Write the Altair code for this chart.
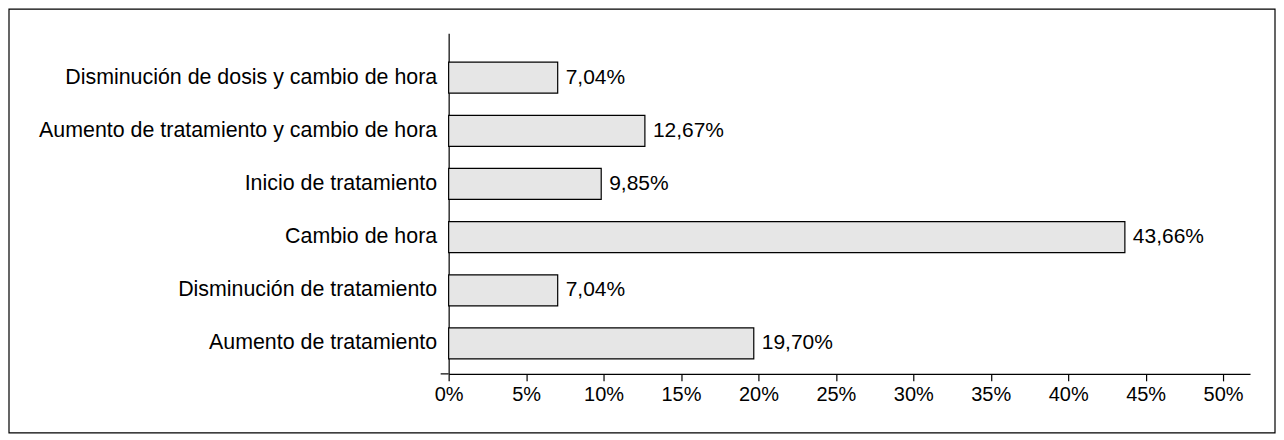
import altair as alt
import pandas as pd

categories = [
    "Disminución de dosis y cambio de hora",
    "Aumento de tratamiento y cambio de hora",
    "Inicio de tratamiento",
    "Cambio de hora",
    "Disminución de tratamiento",
    "Aumento de tratamiento",
]
percentages = [7.04, 12.67, 9.85, 43.66, 7.04, 19.70]
x_ticks = [0, 5, 10, 15, 20, 25, 30, 35, 40, 45, 50]

df = pd.DataFrame({"cat": categories, "pct": percentages})

W = 802
H = 341
FONT = "Liberation Sans"

x_scale = alt.Scale(domain=[0, 51.74], nice=False, zero=True)
y_scale = alt.Scale(domain=categories, paddingInner=0.417, paddingOuter=0.413, align=0.66)

base = alt.Chart(df)

bars = base.mark_bar(fill="#e6e6e6", stroke="black", strokeWidth=1.2).encode(
    x=alt.X("pct:Q", scale=x_scale,
            axis=alt.Axis(values=x_ticks, labelExpr="datum.value + '%'", title=None,
                          grid=False, domainColor="black", tickColor="black",
                          tickSize=7, labelFontSize=20, labelColor="black",
                          labelFont=FONT, labelPadding=4, domainWidth=1.2, tickWidth=1.2,
                          labelFlush=False)),
    y=alt.Y("cat:N", scale=y_scale, sort=None,
            axis=alt.Axis(title=None, ticks=False, labelFontSize=21.4, labelColor="black",
                          labelFont=FONT, labelPadding=12, domainColor="black",
                          domainWidth=1.2, labelLimit=600)),
)

texts = base.mark_text(align="left", baseline="middle", dx=8, fontSize=21,
                       font=FONT, color="black").encode(
    x=alt.X("pct:Q", scale=x_scale),
    y=alt.Y("cat:N", scale=y_scale, sort=None),
    text=alt.Text("lbl:N"),
).transform_calculate(lbl="replace(format(datum.pct, '.2f'), '.', ',') + '%'")

axis_ext = alt.Chart(pd.DataFrame({"a": [0]})).mark_rule(color="black", strokeWidth=1.2).encode(
    x=alt.value(-8), x2=alt.value(0), y=alt.value(H)
)

border = alt.Chart(pd.DataFrame({"a": [0]})).mark_rect(
    fill=None, stroke="black", strokeWidth=1.2
).encode(
    x=alt.value(-440), x2=alt.value(827), y=alt.value(-24), y2=alt.value(400)
)

chart = alt.layer(border, bars, texts, axis_ext).properties(
    width=W, height=H, padding=0, background="white"
).configure_view(stroke=None)

chart.save("out.html", embed_options={"renderer": "svg", "actions": False})
